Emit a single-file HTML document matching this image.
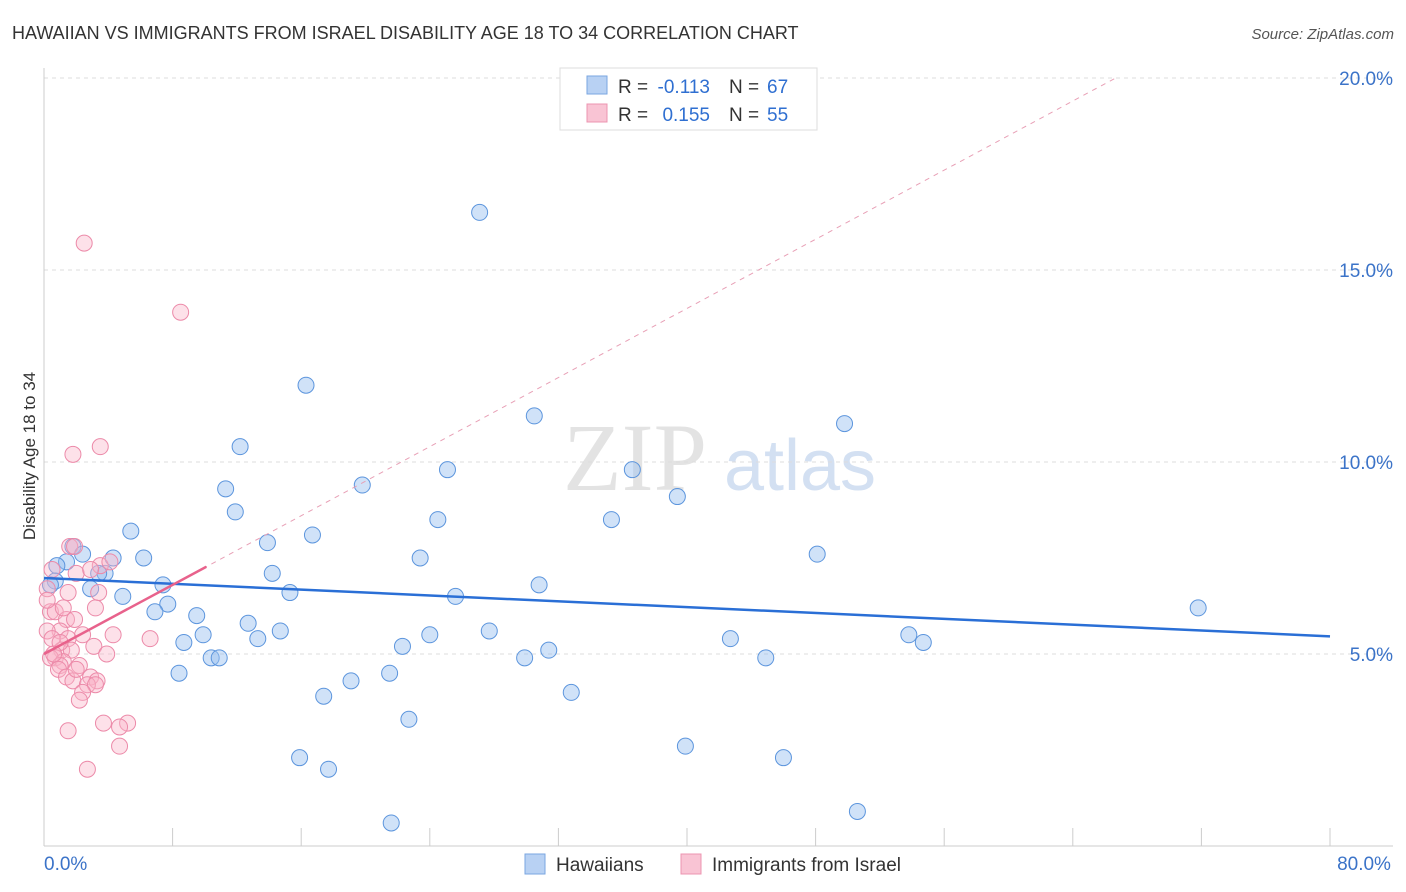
<!DOCTYPE html>
<html><head><meta charset="utf-8">
<style>
body{margin:0;background:#fff;font-family:"Liberation Sans",sans-serif;}
#wrap{position:relative;width:1406px;height:892px;overflow:hidden;}
</style></head>
<body>
<div id="wrap">
<svg id="svg" width="1406" height="892" xmlns="http://www.w3.org/2000/svg">
<text x="12" y="39" font-size="18" fill="#333">HAWAIIAN VS IMMIGRANTS FROM ISRAEL DISABILITY AGE 18 TO 34 CORRELATION CHART</text>
<text x="1394" y="39" font-size="15" fill="#555" font-style="italic" text-anchor="end">Source: ZipAtlas.com</text>
<text x="35" y="456" font-size="17" fill="#333" text-anchor="middle" transform="rotate(-90 35 456)">Disability Age 18 to 34</text>
<g>
<text x="635" y="490" font-size="96" fill="#ddd" font-family="Liberation Serif,serif" text-anchor="middle" opacity="0.8">ZIP</text>
<text x="800" y="490" font-size="72" fill="#c9d9ef" text-anchor="middle" opacity="0.8">atlas</text>
</g>
<g id="grid"></g>
<g id="axes"></g>
<g id="marks"></g>
<g>
<rect x="560" y="68" width="257" height="62" fill="#fff" stroke="#ddd"/>
<rect x="587" y="76" width="20" height="18" fill="#b8d1f3" stroke="#7aa6e0"/>
<rect x="587" y="104" width="20" height="18" fill="#f9c4d4" stroke="#ec94b0"/>
<text x="618" y="93" font-size="19" fill="#333">R =</text>
<text x="710" y="93" font-size="19" fill="#2f6fd1" text-anchor="end">-0.113</text>
<text x="729" y="93" font-size="19" fill="#333">N =</text>
<text x="767" y="93" font-size="19" fill="#2f6fd1">67</text>
<text x="618" y="121" font-size="19" fill="#333">R =</text>
<text x="710" y="121" font-size="19" fill="#2f6fd1" text-anchor="end">0.155</text>
<text x="729" y="121" font-size="19" fill="#333">N =</text>
<text x="767" y="121" font-size="19" fill="#2f6fd1">55</text>
</g>
<g>
<rect x="525" y="854" width="20" height="20" fill="#b8d1f3" stroke="#7aa6e0"/>
<text x="556" y="871" font-size="19" fill="#333">Hawaiians</text>
<rect x="681" y="854" width="20" height="20" fill="#f9c4d4" stroke="#ec94b0"/>
<text x="712" y="871" font-size="19" fill="#333">Immigrants from Israel</text>
</g>
</svg>
</div>
<script>
const yTicks=[5,10,15,20];
const yTickLabels=["5.0%","10.0%","15.0%","20.0%"];
const xTickCount=[0,8,16,24,32,40,48,56,64,72,80];
const xEndLabels=["0.0%","80.0%"];
const blueX=[27.1,16.3,30.5,49.8,12.2,25.1,36.6,11.3,19.8,39.4,11.9,24.5,35.3,5.4,16.7,13.9,1.8,2.4,4.3,6.2,23.4,48.1,1.4,0.8,14.2,3.8,3.4,30.8,7.4,15.3,4.9,25.6,2.9,7.7,6.9,9.5,71.8,12.7,14.7,9.9,8.7,24.0,27.7,53.8,42.7,13.3,54.7,22.3,31.4,29.9,44.9,10.4,10.9,8.4,21.5,19.1,32.8,17.4,22.7,39.9,15.9,46.0,17.7,21.6,50.6,0.7,0.4];
const blueY=[16.5,12.0,11.2,11.0,10.4,9.8,9.8,9.3,9.4,9.1,8.7,8.5,8.5,8.2,8.1,7.9,7.8,7.6,7.5,7.5,7.5,7.6,7.4,7.3,7.1,7.1,7.1,6.8,6.8,6.6,6.5,6.5,6.7,6.3,6.1,6.0,6.2,5.8,5.6,5.5,5.3,5.5,5.6,5.5,5.4,5.4,5.3,5.2,5.1,4.9,4.9,4.9,4.9,4.5,4.5,4.3,4.0,3.9,3.3,2.6,2.3,2.3,2.0,0.6,0.9,6.9,6.8];
const pinkX=[2.5,8.5,1.8,3.5,1.6,1.9,3.5,2.0,1.5,3.4,0.2,0.4,3.2,0.7,1.4,1.9,1.0,0.2,4.3,2.4,6.6,0.5,1.5,3.1,1.1,3.9,1.7,0.7,0.4,1.2,1.0,2.2,0.9,1.4,1.8,2.9,3.3,2.7,3.2,2.4,2.2,3.7,5.2,4.7,1.5,4.7,2.7,0.5,0.2,4.1,1.2,2.9,1.0,0.6,2.0];
const pinkY=[15.7,13.9,10.2,10.4,7.8,7.8,7.3,7.1,6.6,6.6,6.7,6.1,6.2,6.1,5.9,5.9,5.6,5.6,5.5,5.5,5.4,5.4,5.4,5.2,5.1,5.0,5.1,4.9,4.9,4.8,4.7,4.7,4.6,4.4,4.3,4.4,4.3,4.2,4.2,4.0,3.8,3.2,3.2,3.1,3.0,2.6,2.0,7.2,6.4,7.4,6.2,7.2,5.3,5.0,4.6];
const blueFit=[6.98,-0.019];
const pinkFit=[5.0,0.225];
const NS="http://www.w3.org/2000/svg";
const X=v=>44+v*16.075, Y=v=>846-v*38.4;
function mk(t,a,p){const e=document.createElementNS(NS,t);for(const k in a)e.setAttribute(k,a[k]);p.appendChild(e);return e;}
const grid=document.getElementById('grid'),axes=document.getElementById('axes'),marks=document.getElementById('marks');
yTicks.forEach((t,i)=>{
 const l=mk('line',{x1:44,x2:1393,y1:Y(t),y2:Y(t),stroke:'#ddd','stroke-dasharray':'4 4'},grid);
 
 
 const tx=mk('text',{x:1393,y:Y(t)+7,'font-size':19,fill:'#3b73c8','text-anchor':'end'},axes);
 tx.textContent=yTickLabels[i];
 
 
});
const topGrid=mk('line',{x1:44,x2:1393,y1:78,y2:78,stroke:'#ddd','stroke-dasharray':'4 4'},grid);


const ya=mk('line',{x1:44,x2:44,y1:68,y2:846,stroke:'#ccc'},axes);


const xa=mk('line',{x1:44,x2:1393,y1:846,y2:846,stroke:'#ccc'},axes);


xTickCount.forEach(t=>{
 const l=mk('line',{x1:X(t),x2:X(t),y1:828,y2:846,stroke:'#ccc'},axes);
 
 
});
xEndLabels.forEach((s,i)=>{
 const t=mk('text',{x:i?1364:44,y:870,'font-size':19,fill:'#3b73c8','text-anchor':i?'middle':'start'},axes);
 t.textContent=s;
 
 
});
blueX.forEach((x,i)=>{
 const c=mk('circle',{cx:X(x),cy:Y(blueY[i]),r:8,fill:'rgba(150,190,240,0.45)',stroke:'#5c95dd','stroke-width':1},marks);
 
 
});
pinkX.forEach((x,i)=>{
 const c=mk('circle',{cx:X(x),cy:Y(pinkY[i]),r:8,fill:'rgba(249,180,200,0.4)',stroke:'#ec8aa9','stroke-width':1},marks);
 
 
});
const bl=mk('line',{x1:X(0),y1:Y(blueFit[0]),x2:X(80),y2:Y(blueFit[0]+80*blueFit[1]),stroke:'#2a6fd6','stroke-width':2.5},marks);


const xe=(20-pinkFit[0])/pinkFit[1];
const pd=mk('line',{x1:X(0),y1:Y(pinkFit[0]),x2:X(xe),y2:Y(20),stroke:'#e8a0b6','stroke-width':1,'stroke-dasharray':'5 5'},marks);


const pl=mk('line',{x1:X(0),y1:Y(pinkFit[0]),x2:X(10.1),y2:Y(pinkFit[0]+10.1*pinkFit[1]),stroke:'#e8628c','stroke-width':2.5},marks);


</script>
</body></html>
